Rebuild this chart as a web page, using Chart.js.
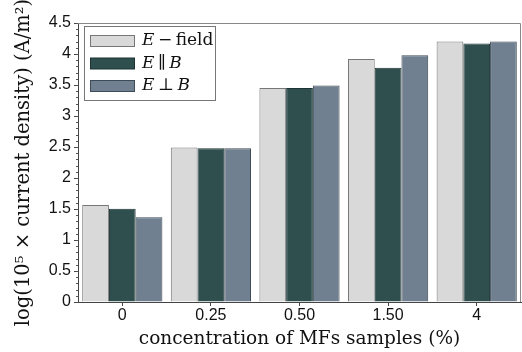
<!DOCTYPE html>
<html><head><meta charset="utf-8">
<script src="https://cdn.jsdelivr.net/npm/chart.js@4/dist/chart.umd.min.js"></script>
<style>html,body{margin:0;padding:0;background:#fff}#w{width:522px;height:352px}</style>
</head><body><div id="w"><canvas id="c" width="522" height="352"></canvas></div>
<script>
const categories = ["0", "0.25", "0.50", "1.50", "4"];
const eField = [1.565, 2.49, 3.45, 3.92, 4.20];
const eParB = [1.505, 2.48, 3.45, 3.78, 4.17];
const ePerpB = [1.365, 2.48, 3.49, 3.98, 4.20];
const seriesLabels = ["E \u2212 field", "E \u2225 B", "E \u22a5 B"];
const yTicks = [0, 0.5, 1, 1.5, 2, 2.5, 3, 3.5, 4, 4.5];

const frame = {
  id: 'frame',
  afterDraw(chart) {
    const {ctx, chartArea: a, scales} = chart;
    ctx.save();
    ctx.strokeStyle = '#888'; ctx.lineWidth = 1;
    ctx.beginPath();
    ctx.moveTo(a.left, a.top + 0.5); ctx.lineTo(a.right - 0.5, a.top + 0.5); ctx.lineTo(a.right - 0.5, a.bottom);
    ctx.stroke();
    // minor ticks
    ctx.strokeStyle = '#555';
    const y = scales.y;
    ctx.beginPath();
    for (let v = 0; v <= 4.5001; v += 0.1) {
      const py = Math.round(y.getPixelForValue(v)) + 0.5;
      ctx.moveTo(a.left - 2, py); ctx.lineTo(a.left, py);
    }
    ctx.stroke();
    // legend
    const lx = a.left + 6, ly = a.top + 3, lw = 131, lh = 74;
    ctx.fillStyle = '#fff'; ctx.fillRect(lx, ly, lw, lh);
    ctx.strokeStyle = '#777'; ctx.strokeRect(lx + 0.5, ly + 0.5, lw, lh);
    chart.data.datasets.forEach((ds, i) => {
      const cy = ly + 15 + i * 22.5;
      ctx.fillStyle = ds.backgroundColor;
      ctx.fillRect(lx + 6, cy - 5.5, 44, 11);
      ctx.strokeStyle = ds.borderColor; ctx.strokeRect(lx + 6.5, cy - 5.5, 44, 11);
      let tx = lx + 58;
      ctx.fillStyle = '#111'; ctx.textBaseline = 'middle';
      ds.label.split(/( )/).forEach(part => {
        const it = /^[EB]$/.test(part);
        ctx.font = (it ? 'italic ' : '') + '17px "DejaVu Serif", serif';
        ctx.fillText(part, tx, cy);
        tx += part === ' ' ? 3.5 : ctx.measureText(part).width;
      });
    });
    ctx.restore();
  }
};

new Chart(document.getElementById('c'), {
  type: 'bar',
  data: {
    labels: categories,
    datasets: [
      {label: seriesLabels[0], data: eField, backgroundColor: '#d9d9d9', borderColor: '#777'},
      {label: seriesLabels[1], data: eParB, backgroundColor: '#2f4f4f', borderColor: '#1d3333'},
      {label: seriesLabels[2], data: ePerpB, backgroundColor: '#708090', borderColor: '#3e4a55'}
    ]
  },
  options: {
    responsive: false, animation: false,
    devicePixelRatio: 1,
    layout: {padding: {top: 23, right: 1, left: 0, bottom: 0}},
    datasets: {bar: {borderWidth: 1, categoryPercentage: 0.905, barPercentage: 1}},
    plugins: {legend: {display: false}, tooltip: {enabled: false}},
    scales: {
      x: {
        grid: {display: true, drawOnChartArea: false, offset: false, tickLength: 4, color: '#444'},
        border: {display: true, color: '#444'},
        ticks: {color: '#111', font: {family: '"Liberation Sans", Arial, sans-serif', size: 16}, padding: 0},
        title: {display: true, text: 'concentration of MFs samples (%)', color: '#111',
          font: {family: '"DejaVu Serif", serif', size: 18.5}, padding: {top: 0, bottom: 2}},
        afterFit(s) { s.height = 50; }
      },
      y: {
        min: 0, max: 4.5,
        afterBuildTicks(s) { s.ticks = yTicks.map(v => ({value: v})); },
        grid: {display: true, drawOnChartArea: false, tickLength: 4, color: '#444'},
        border: {display: true, color: '#444'},
        ticks: {color: '#111', font: {family: '"Liberation Sans", Arial, sans-serif', size: 16}, padding: 3,
          callback: v => String(v)},
        title: {display: true, text: 'log(10\u2075 \u00d7 current density) (A/m\u00b2)', color: '#111',
          font: {family: '"DejaVu Serif", serif', size: 19.5}, padding: {top: 12, bottom: 0}},
        afterFit(s) { s.width = 78; }
      }
    }
  },
  plugins: [frame]
});
</script></body></html>
